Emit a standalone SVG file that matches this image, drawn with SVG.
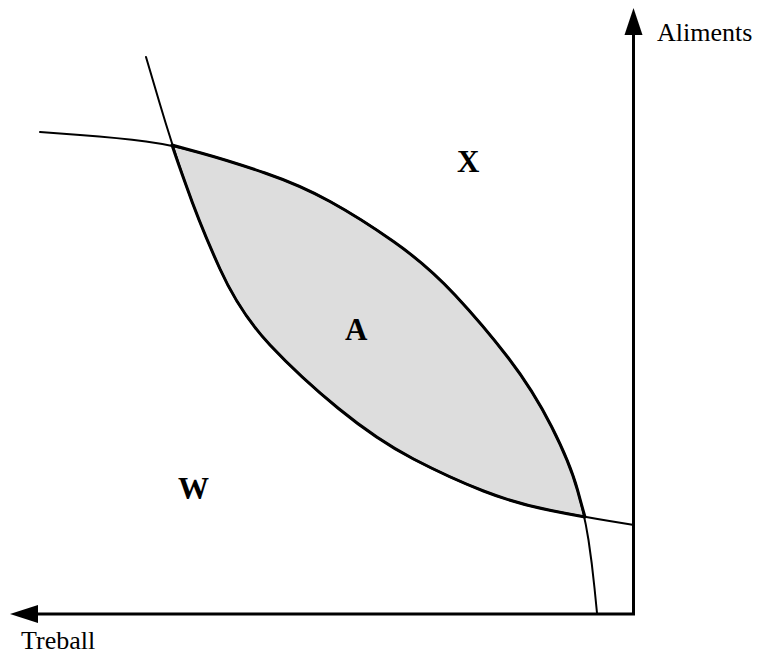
<svg xmlns="http://www.w3.org/2000/svg" width="765" height="657" viewBox="0 0 765 657">
<style>
.axis{stroke:#000;stroke-width:3;fill:none}
.curve{stroke:#000;stroke-width:2;fill:none;stroke-linejoin:round;stroke-linecap:round}
.region{fill:#dddddd;stroke:#000;stroke-width:3;stroke-linejoin:round}
.lbl{font-family:"Liberation Serif","Times New Roman",serif;font-size:26px;fill:#000}
.big{font-family:"Liberation Serif","Times New Roman",serif;font-size:31px;font-weight:bold;fill:#000}
</style>
<rect width="765" height="657" fill="#fff"/>
<g id="regionA">
<path class="region" d="M172,145 Q186,149 201,153 Q230,161 265,173 Q300,185 330,201.5 Q360,218 393.5,241.5 Q427,265 455,295 Q483,325 508,357.5 Q533,390 551.5,426.5 Q570,463 577.5,490 Q581,503 585,517 Q568,514 551,510.5 Q517,504 483.5,491 Q450,478 413.5,459 Q377,440 338.5,408.5 Q300,377 270,345 Q240,313 220,269 Q200,225 186,185 Q178,163 172,145 Z"/>
</g>
<g id="connectors">
<path class="curve" d="M40,132 L80,135 Q120,138 146,141.5 Q172,145 201,153 Q230,161 265,173 Q300,185 330,201.5 Q360,218 393.5,241.5 Q427,265 455,295 Q483,325 508,357.5 Q533,390 551.5,426.5 Q570,463 577.5,490 Q585,517 588.5,540 Q592,563 594.5,588 L597,613"/>
<path class="curve" d="M146,57 L159,101 Q172,145 186,185 Q200,225 220,269 Q240,313 270,345 Q300,377 338.5,408.5 Q377,440 413.5,459 Q450,478 483.5,491 Q517,504 551,510.5 Q585,517 609.5,521 L634,525"/>
<line class="axis" x1="633.5" y1="615" x2="633.5" y2="30"/>
<line class="axis" x1="635" y1="614" x2="34" y2="614"/>
<polygon points="633.5,8 624.5,35 642.5,35" fill="#000"/>
<polygon points="10,614 38,605 38,623" fill="#000"/>
</g>
<g id="labels">
<text class="lbl" x="657" y="41">Aliments</text>
<text class="lbl" x="21" y="649">Treball</text>
<text class="big" x="457" y="172">X</text>
<text class="big" x="345" y="340">A</text>
<text class="big" x="178" y="499">W</text>
</g>
</svg>
